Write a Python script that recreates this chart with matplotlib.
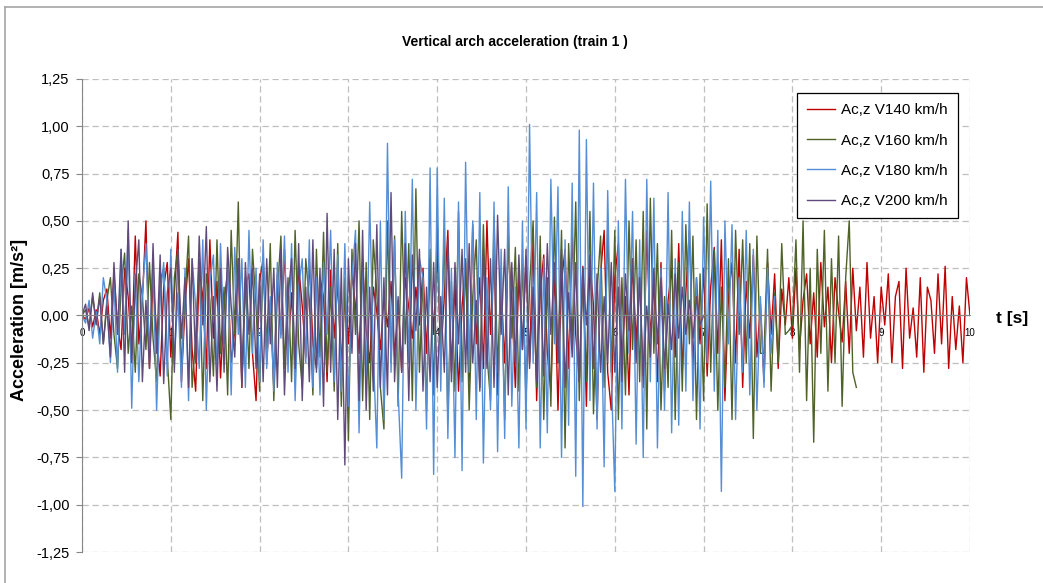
import matplotlib.pyplot as plt
import numpy as np
from matplotlib.lines import Line2D
from matplotlib.ticker import FuncFormatter

plt.rcParams['font.family'] = ['Liberation Sans', 'DejaVu Sans']

# sample step of the recordings [s]
DT = 0.04

# vertical acceleration, in hundredths of m/s^2, one row per second
acc_140 = [
    0, -2, 4, -6, 3, -10, 8, 14, -12, 22, -5, -18, 25, 10, -20, 42, -15, 8, 50, -28, 20, -10, -32, 15, 28,
    -22, 12, 44, -35, 5, 30, -18, -40, 25, 10, -28, 40, -12, 18, -33, 6, 24, -25, -8, 30, -38, 15, 22, -20, -45,
    18, 30, -25, 8, -38, 22, -10, 35, -20, 12, -30, 26, 5, -22, 30, -15, -28, 20, 10, -35, 24, -12, 18, -26, 12,
    -15, 22, 5, -20, 28, -8, -25, 15, 2, -18, 10, -6, 18, -22, 8, -30, 20, 4, -12, 15, -5, 25, -20, 30, -10,
    35, -22, 10, 45, -30, 18, -40, 5, 28, -35, 48, -15, 20, -28, 50, -10, 32, -42, 15, -25, 38, 8, -38, 22, -18,
    30, -25, 40, -45, 12, 32, -20, -40, 25, -50, 18, 35, -28, 44, -10, -35, 26, -48, 30, 5, -55, 22, 45, -30, -50,
    20, 38, -25, 10, -42, 30, -15, 22, -38, 45, -12, 18, -35, 28, -40, 8, 25, -22, 38, -30, 12, 45, -28, 20, -15,
    25, -32, 15, 36, -20, 40, -45, 10, 28, -25, 35, -38, 18, -12, 32, -22, 6, -35, 28, -10, 22, -28, 14, -5, 20,
    -12, 25, -18, 8, 22, -15, 12, -22, 28, -6, 15, -25, 20, 2, -14, 18, -20, 25, -8, 15, -22, 28, -12, 10, -25,
    15, -5, 22, -25, 10, 18, -28, 25, -12, 4, -22, 20, -30, 15, 8, -20, 22, -15, 26, -28, 10, -18, 5, -25, 20,
    0,
]

acc_160 = [
    0, 3, -6, 10, -4, 12, -15, 8, 20, -10, -28, 15, 33, -20, 5, -30, 22, 10, -18, 28, -12, -35, 18, 25, -22,
    -55, 20, 35, -30, 10, 42, -38, -12, 30, -45, 22, 8, -32, 40, -20, 15, -42, 45, -10, 60, -35, 20, -28, 35, 5,
    -40, 30, -18, 38, -45, 12, 42, -28, 20, -35, 45, -15, -38, 30, 8, -42, 35, -22, 44, -30, 15, -40, 38, -48, 20,
    -66, 35, -10, 50, -45, 28, -55, 40, 12, -38, -60, 50, -25, 42, -48, 55, -15, 38, -45, 67, -30, 20, -50, 35, -42,
    50, -20, 42, -55, 18, -40, 55, -35, 30, -50, 10, 40, -38, 48, -20, -45, 52, -30, 25, -55, 45, -12, 36, -40, 30,
    -45, 15, 50, -38, 42, -55, 20, -48, 52, -25, 45, -70, 38, -15, 60, -45, 25, -35, 55, -52, 12, 42, -38, 48, -30,
    45, -55, 20, -42, 50, -18, 40, -35, 55, -60, 62, -20, 38, -50, 10, -38, 45, -55, 28, -40, 48, -15, 42, -55, 22,
    -45, 59, -30, 35, -50, 15, -38, 30, -55, 45, -10, 40, -25, 38, -65, 42, -20, -20, 35, -40, 12, -25, 38, -10, -8,
    -5, 40, -30, 50, -45, 25, -67, 35, -20, 45, -40, 30, -25, 42, -48, 20, 50, -30, -38,
]

acc_180 = [
    0, -4, 8, -12, 2, -15, 20, 8, -25, 18, -30, 35, -10, 45, -49, 22, -35, 12, 38, -22, 30, -50, 10, 28, -32,
    35, -25, 12, -38, 25, -45, 30, 5, -28, 40, -50, 18, 32, -30, 38, -15, 28, -42, 36, -10, 30, -38, 45, -20, 25,
    -35, 40, -28, 10, -40, 28, -12, 42, -30, 38, -45, 15, 30, -25, 40, -38, 20, -42, 28, -10, 45, -35, 32, -40, 38,
    -48, 20, 45, -62, 30, -35, 60, -20, -70, 50, -55, 91, -30, 40, -40, -86, 55, -25, 72, -50, 30, 20, -60, 78, -84,
    78, -40, 62, -65, 25, -75, 60, -82, 81, -30, 50, -55, 65, -78, 20, -50, 60, -72, 35, -65, 68, -48, 15, -70, 50,
    -60, 101, -25, 65, -70, 30, -62, 72, -15, 68, -75, 40, -58, 70, -85, 98, -101, 93, -45, 70, -60, 25, -80, 66, -30,
    -93, 50, -60, 72, -20, 55, -68, 40, -75, 72, -35, 62, -70, 25, -50, 65, -62, 30, -58, 55, -40, 60, -45, 20, -60,
    52, -25, 71, -40, 45, -93, 50, -15, 48, -55, 20, -30, 45, -42, 35, -50, 10, -38, 25, -20, 10,
]

acc_200 = [
    0, 6, -8, 12, -5, 10, -15, 5, -22, 28, -10, 35, -30, 50, -25, 15, 40, -35, 8, -28, 38, -20, 32, -36, 12,
    25, -30, 35, -12, 20, -38, 30, -25, 42, -5, 47, -35, 10, -40, 25, -30, 36, 5, -22, 30, -38, 28, -10, 25, -28,
    22, -35, 30, -15, 25, -38, 35, -42, 10, 30, -28, 38, -45, 15, -35, 40, -30, 25, -48, 54, -30, 35, -55, 25, -79,
    30, -20, 38, -45, 45, -50, 15, -40, 48, -38, 20, -42, 65, -35, 10, -30, 38, -45, 32, -8, 35, -40, 15, -35, 28,
    -38, 10, -30, 40, -35, 28, -15, 35, -30, 38, -25, 8, -40, 35, -28, 30, -38, 53, -10, 35, -42, 28, -25, 32, -18,
    35, -28, 15, -35, 25, -32, 38, -10, 28, -25, 35, -38, 12, -22, 28, -35, 25, -5, 32, -28, 22, -30, 10, -25, 28,
    -30, 15, -35, 22, -8, 30, -25, 20, -32, 5, -22, 25, -15, 20, -28, 6, -18, 22, -12, 15, -10, 8, -12, 10, -5,
    0,
]

series_labels = ["Ac,z V140 km/h", "Ac,z V160 km/h", "Ac,z V180 km/h", "Ac,z V200 km/h"]
series_colors = ["#C00000", "#4F6228", "#558ED5", "#604A7B"]

y_ticks = [-1.25, -1.0, -0.75, -0.5, -0.25, 0.0, 0.25, 0.5, 0.75, 1.0, 1.25]
x_ticks = list(range(11))

fig = plt.figure(figsize=(10.43, 5.83), dpi=100)
ax = fig.add_axes([82 / 1043, 1 - 552 / 583, 888 / 1043, 473 / 583])

for values, label, color in zip([acc_140, acc_160, acc_180, acc_200], series_labels, series_colors):
    acc = np.array(values) / 100.0
    t = np.arange(len(acc)) * DT
    ax.plot(t, acc, color=color, lw=1.0, label=label)

ax.set_xlim(0, 10)
ax.set_ylim(-1.25, 1.25)
ax.set_xticks(x_ticks)
ax.set_yticks(y_ticks)
ax.yaxis.set_major_formatter(FuncFormatter(lambda v, pos: f"{v:.2f}".replace('.', ',')))

# grid like excel: light grey dashes
ax.grid(True, color="#BFBFBF", lw=0.9, linestyle=(0, (5, 3)))
ax.set_axisbelow(True)

# x axis runs through zero
for side in ['top', 'right']:
    ax.spines[side].set_visible(False)
ax.spines['bottom'].set_position(('data', 0))
ax.spines['bottom'].set_color("#868686")
ax.spines['left'].set_color("#868686")
ax.tick_params(axis='x', length=0, pad=9, labelsize=7, colors='black')
ax.tick_params(axis='y', length=4, width=0.8, color="#868686", pad=5, labelsize=10.5)

fig.text(515 / 1043, 1 - 42 / 583, "Vertical arch acceleration (train 1 )",
         ha='center', va='center', fontsize=10, fontweight='bold')
fig.text(20 / 1043, 1 - 320 / 583, "Acceleration [m/s²]", rotation=90,
         ha='center', va='center', fontsize=13, fontweight='bold')
fig.text(1012 / 1043, 1 - 319 / 583, "t [s]", ha='center', va='center',
         fontsize=12.5, fontweight='bold')

leg = ax.legend(loc='upper left', bbox_to_anchor=(797 / 1043, 1 - 93 / 583),
                bbox_transform=fig.transFigure, borderaxespad=0, fontsize=11,
                fancybox=False, framealpha=1, edgecolor='black',
                handlelength=1.8, handletextpad=0.4, labelspacing=1.06, borderpad=0.68)
leg.get_frame().set_linewidth(0.9)

# chart area border (only top and left are in the picture)
fig.add_artist(Line2D([5 / 1043, 5 / 1043], [0, 1 - 7 / 583], color="#A6A6A6", lw=1.2))
fig.add_artist(Line2D([5 / 1043, 1], [1 - 7 / 583, 1 - 7 / 583], color="#A6A6A6", lw=1.2))

plt.savefig("out.png", dpi=100)
